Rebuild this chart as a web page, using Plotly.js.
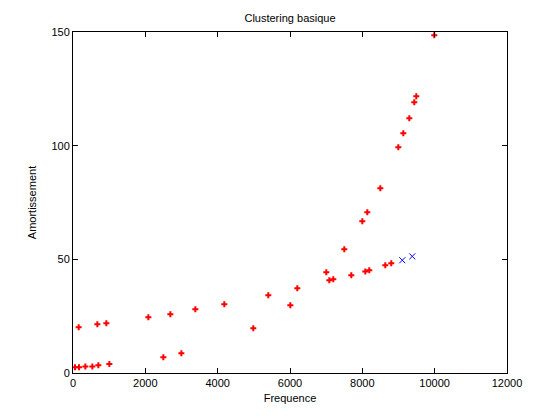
<!DOCTYPE html>
<html>
<head>
<meta charset="utf-8">
<script src="https://cdn.plot.ly/plotly-3.0.1.min.js"></script>
<style>html,body{margin:0;padding:0;background:#fff;}#chart{width:560px;height:420px;}</style>
</head>
<body>
<div id="chart"></div>
<script>
// Cluster 1 (red)
const redFreq = [55, 166, 157, 341, 535, 701, 673, 922, 1005, 2083, 2498, 2692, 2996, 3383, 4184, 4985,
  5400, 6009, 6202, 7004, 7087, 7197, 7501, 7695, 8082, 8192, 8635, 8800,
  7999, 8137, 8497, 8995, 9133, 9299, 9437, 9492, 9989];
const redAmort = [2.5, 2.5, 20.1, 2.9, 2.9, 3.4, 21.4, 21.9, 4.0, 24.5, 6.9, 25.8, 8.7, 28.0, 30.2, 19.7,
  34.2, 29.8, 37.3, 44.3, 40.8, 41.2, 54.4, 43.0, 44.7, 45.2, 47.4, 48.3,
  66.7, 70.7, 81.3, 99.3, 105.5, 112.1, 119.1, 121.7, 148.6];
// Cluster 2 (blue)
const blueFreq = [9105, 9381];
const blueAmort = [49.6, 51.3];

const xTicks = [0, 2000, 4000, 6000, 8000, 10000, 12000];
const yTicks = [0, 50, 100, 150];

const traces = [
  {x: redFreq, y: redAmort, type: 'scatter', mode: 'markers',
   marker: {symbol: 'cross', size: 5, color: '#ff0000', line: {width: 0}}, showlegend: false},
  {x: blueFreq, y: blueAmort, type: 'scatter', mode: 'markers',
   marker: {symbol: 'x-thin-open', size: 6, color: '#0000ff', line: {width: 1, color: '#0000ff'}}, showlegend: false}
];

const axisCommon = {
  showline: true, linecolor: '#000', linewidth: 1, mirror: 'ticks',
  ticks: 'inside', ticklen: 5, tickcolor: '#000', tickwidth: 1,
  showgrid: false, zeroline: false,
  tickfont: {family: 'Liberation Sans, Arial, sans-serif', size: 11, color: '#000'}
};

const layout = {
  width: 560, height: 420,
  margin: {l: 73, r: 53, t: 32, b: 47},
  paper_bgcolor: '#fff', plot_bgcolor: '#fff',
  font: {family: 'Liberation Sans, Arial, sans-serif', size: 11, color: '#000'},
  title: {text: 'Clustering basique', x: 0.5, xanchor: 'center', y: 0.957, yanchor: 'middle',
          xref: 'paper', font: {size: 11, color: '#000'}},
  xaxis: Object.assign({}, axisCommon, {
    range: [0, 12000], tickvals: xTicks, ticktext: xTicks.map(String),
    title: {text: 'Frequence', standoff: 6, font: {size: 11}}
  }),
  yaxis: Object.assign({}, axisCommon, {
    range: [0, 150], tickvals: yTicks, ticktext: yTicks.map(String),
    title: {text: 'Amortissement', standoff: 12, font: {size: 11}}
  })
};

Plotly.newPlot('chart', traces, layout, {displayModeBar: false, staticPlot: true});
</script>
</body>
</html>
